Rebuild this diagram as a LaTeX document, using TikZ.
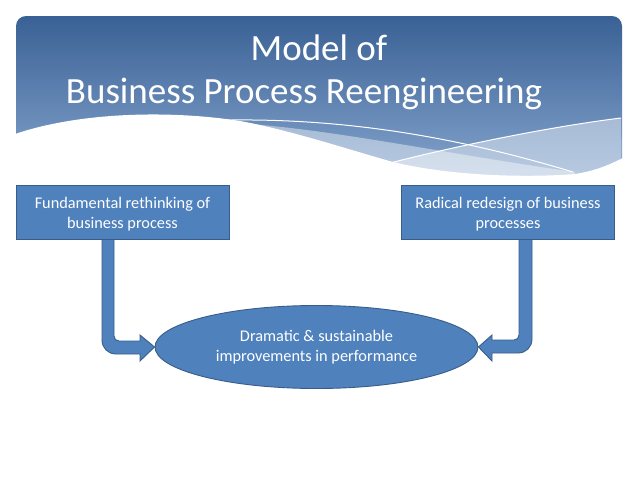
\documentclass[tikz,border=0pt]{standalone}
\usepackage{fontspec}
\setmainfont{Carlito}
\usetikzlibrary{shapes.geometric,calc}
\definecolor{boxfill}{HTML}{4F81BD}
\definecolor{boxline}{HTML}{385D8A}
\definecolor{bantop}{HTML}{3A6195}
\definecolor{banbot}{HTML}{8EADD4}
\tikzset{
  proctext/.style={text=white, align=center, inner sep=0pt, font=\fontsize{16.3}{20}\selectfont},
  procbox/.style={rectangle, fill=boxfill, draw=boxline, line width=0.9pt, minimum width=213pt, minimum height=54pt, inner sep=0pt},
  goal/.style={ellipse, fill=boxfill, draw=boxline, line width=0.9pt, minimum width=323pt, minimum height=83pt, inner sep=0pt},
  bentarrow/.style={fill=boxfill, draw=boxline, line width=0.9pt, line join=miter},
  titletext/.style={text=white, font=\fontsize{37}{44}\selectfont, inner sep=0pt, anchor=base},
  waveline/.style={draw=white, line width=1pt},
}
\begin{document}
\begin{tikzpicture}[x=1pt,y=-1pt]
\useasboundingbox (0,0) rectangle (638,479);
\fill[white] (0,0) rectangle (638,479);
% banner
\shade[top color=bantop, bottom color=banbot]
  (16,200) [rounded corners=10pt]-- (16,16) -- (622,16) [sharp corners]-- (622,200) -- cycle;
% pale bands
\fill[white, opacity=0.42] (200,122) .. controls (300,122) and (420,150) .. (575,172) -- (575,200) -- (200,200) -- cycle;
\fill[white, opacity=0.42] (390,163) .. controls (440,150) and (540,128) .. (621,118) -- (622,200) -- (390,200) -- cycle;
% white wave
\fill[white] (15,134) .. controls (80,112) and (170,110) .. (240,121)
  .. controls (290,130) and (350,150) .. (393,162)
  .. controls (460,178) and (540,177) .. (575,174)
  .. controls (600,170) and (612,163) .. (623,158) -- (623,215) -- (15,215) -- cycle;
\path[waveline] (195,121) .. controls (330,115) and (450,135) .. (573,172);
\path[waveline] (390,163) .. controls (440,150) and (540,128) .. (621,118);
% title
\node[titletext] (t1) at (319,60) {Model of};
\node[titletext] (t2) at (304,103) {Business Process Reengineering};
% boxes
\node[procbox, label={[proctext, yshift=-2.5pt]center:Fundamental rethinking of\\business process}] (b1) at (122.5,212) {};
\node[procbox, label={[proctext, yshift=-2.5pt]center:Radical redesign of business\\processes}] (b2) at (508,212) {};
\node[goal, label={[proctext, yshift=-0.5pt]center:Dramatic \& sustainable\\improvements in performance}] (g) at (316.5,347) {};
% bent arrows
\path[bentarrow] (b1.south -| 102,0) -- (b1.south -| 114,0) -- (114,336)
  .. controls (114,339) and (116,341) .. (119,341) -- (140,341) -- (140,335)
  -- (g.west) -- (140,361) -- (140,354) -- (116,354)
  .. controls (108,354) and (102,348) .. (102,340) -- cycle;
\path[bentarrow] (b2.south -| 532,0) -- (b2.south -| 519,0) -- (519,335)
  .. controls (519,338) and (517,340) .. (514,340) -- (492,340) -- (492,335)
  -- (g.east) -- (492,361) -- (492,353) -- (518,353)
  .. controls (526,353) and (532,347) .. (532,339) -- cycle;
\end{tikzpicture}
\end{document}
